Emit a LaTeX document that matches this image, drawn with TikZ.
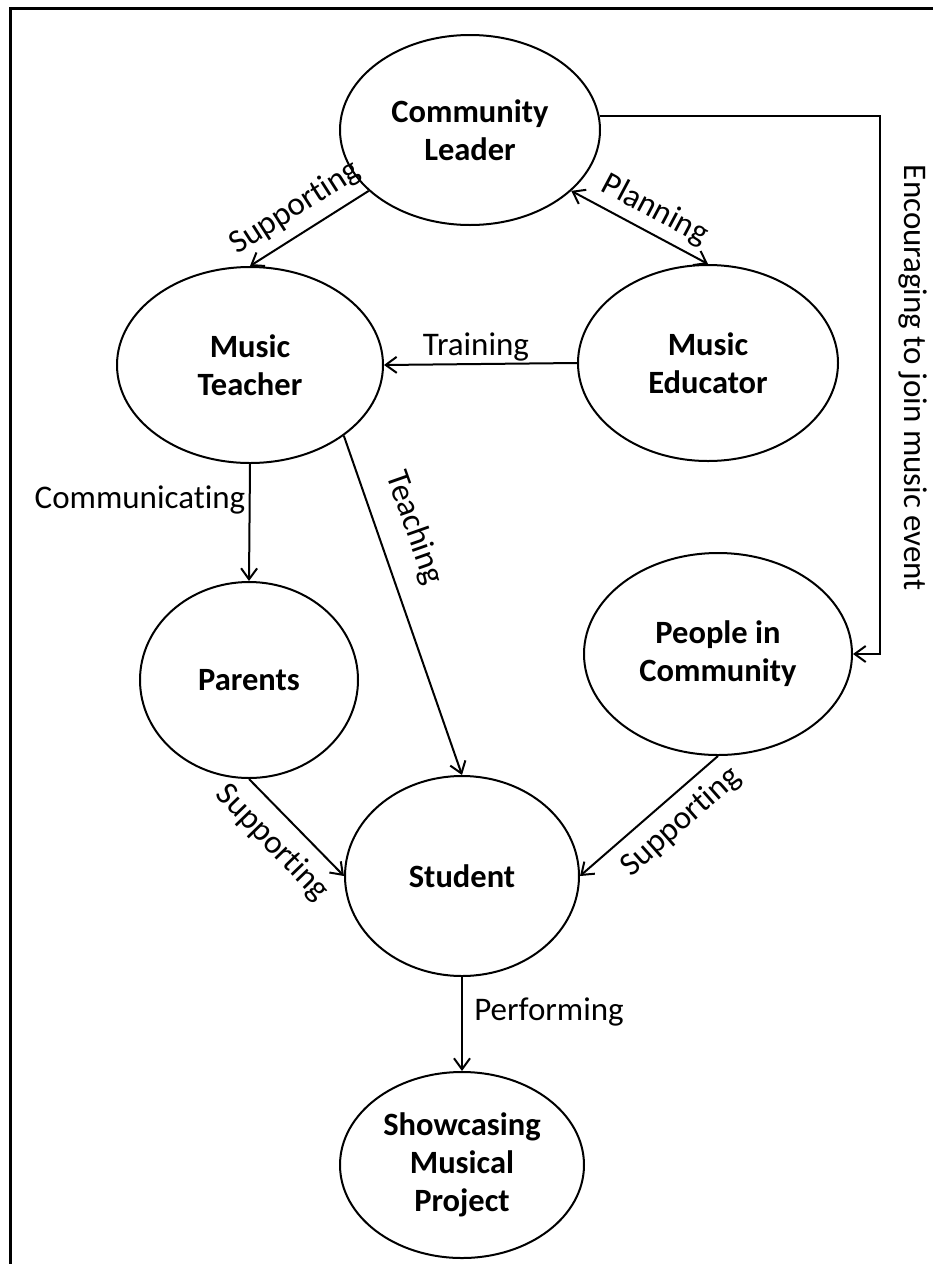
\documentclass[tikz,border=0pt]{standalone}
\usepackage{fontspec}
\setmainfont{Carlito}[Ligatures=NoCommon]
\usetikzlibrary{shapes.geometric, arrows.meta}

\begin{document}
\begin{tikzpicture}[x=1pt, y=-1pt, >={Straight Barb[length=11pt,width=16pt]}]
    % Styles
    \tikzstyle{actor} = [ellipse, draw=black, line width=2pt, inner sep=0pt, align=center, font=\fontsize{32.5}{38}\selectfont\bfseries]
    \tikzstyle{link} = [->, line width=2pt]
    \tikzstyle{lbl} = [font=\fontsize{33}{38}\selectfont, inner sep=0pt]

    \useasboundingbox (0,0) rectangle (933,1264);

    % Frame
    \draw[line width=3pt] (10,1264) -- (10,8) -- (933,8);

    % Nodes: People
    \node[actor, minimum width=260pt, minimum height=190pt] (CL) at (470,130) {Community\\Leader};
    \node[actor, minimum width=260pt, minimum height=196pt] (ME) at (708,363) {Music\\Educator};
    \node[actor, minimum width=266pt, minimum height=196pt] (MT) at (250,365) {Music\\Teacher};
    \node[actor, minimum width=218pt, minimum height=196pt] (PA) at (249,680) {Parents};
    \node[actor, minimum width=268pt, minimum height=202pt] (PC) at (718,654) {People in\\Community};
    \node[actor, minimum width=234pt, minimum height=200pt] (ST) at (462,876) {Student};
    \node[actor, minimum width=244pt, minimum height=186pt] (SP) at (462,1165) {Showcasing\\Musical\\Project};

    % Edges
    \coordinate (turn) at (880,117);
    \draw[link] (CL.211) -- (MT.north);
    \draw[link, <->] (CL.-31) -- (ME.north);
    \draw[link] (ME.west) -- (MT.east);
    \draw[link] (MT.south) -- (PA.north);
    \draw[link] (MT.-37) -- (ST.north);
    \draw[link] (PA.south) -- (ST.west);
    \draw[link] (PC.south) -- (ST.east);
    \draw[link] (ST.south) -- (SP.north);
    \draw[link] (CL.6) -- (CL.6 -| turn) |- (PC.east);

    % Edge labels
    \node[lbl, rotate=32.6] (tSupMT) at (295,208) {Supporting};
    \node[lbl, rotate=-28] (tPlan) at (655,210) {Planning};
    \node[lbl] (tTrain) at (476,347) {Training};
    \node[lbl] (tComm) at (140,500) {Communicating};
    \node[lbl, rotate=-70.6] (tTeach) at (414,528) {Teaching};
    \node[lbl, rotate=-46] (tSupPA) at (272,843) {Supporting};
    \node[lbl, rotate=41.4] (tSupPC) at (681,822) {Supporting};
    \node[lbl] (tPerf) at (549,1012) {Performing};
    \node[lbl, rotate=-90] (tEnc) at (913,378) {Encouraging to join music event};
\end{tikzpicture}
\end{document}
